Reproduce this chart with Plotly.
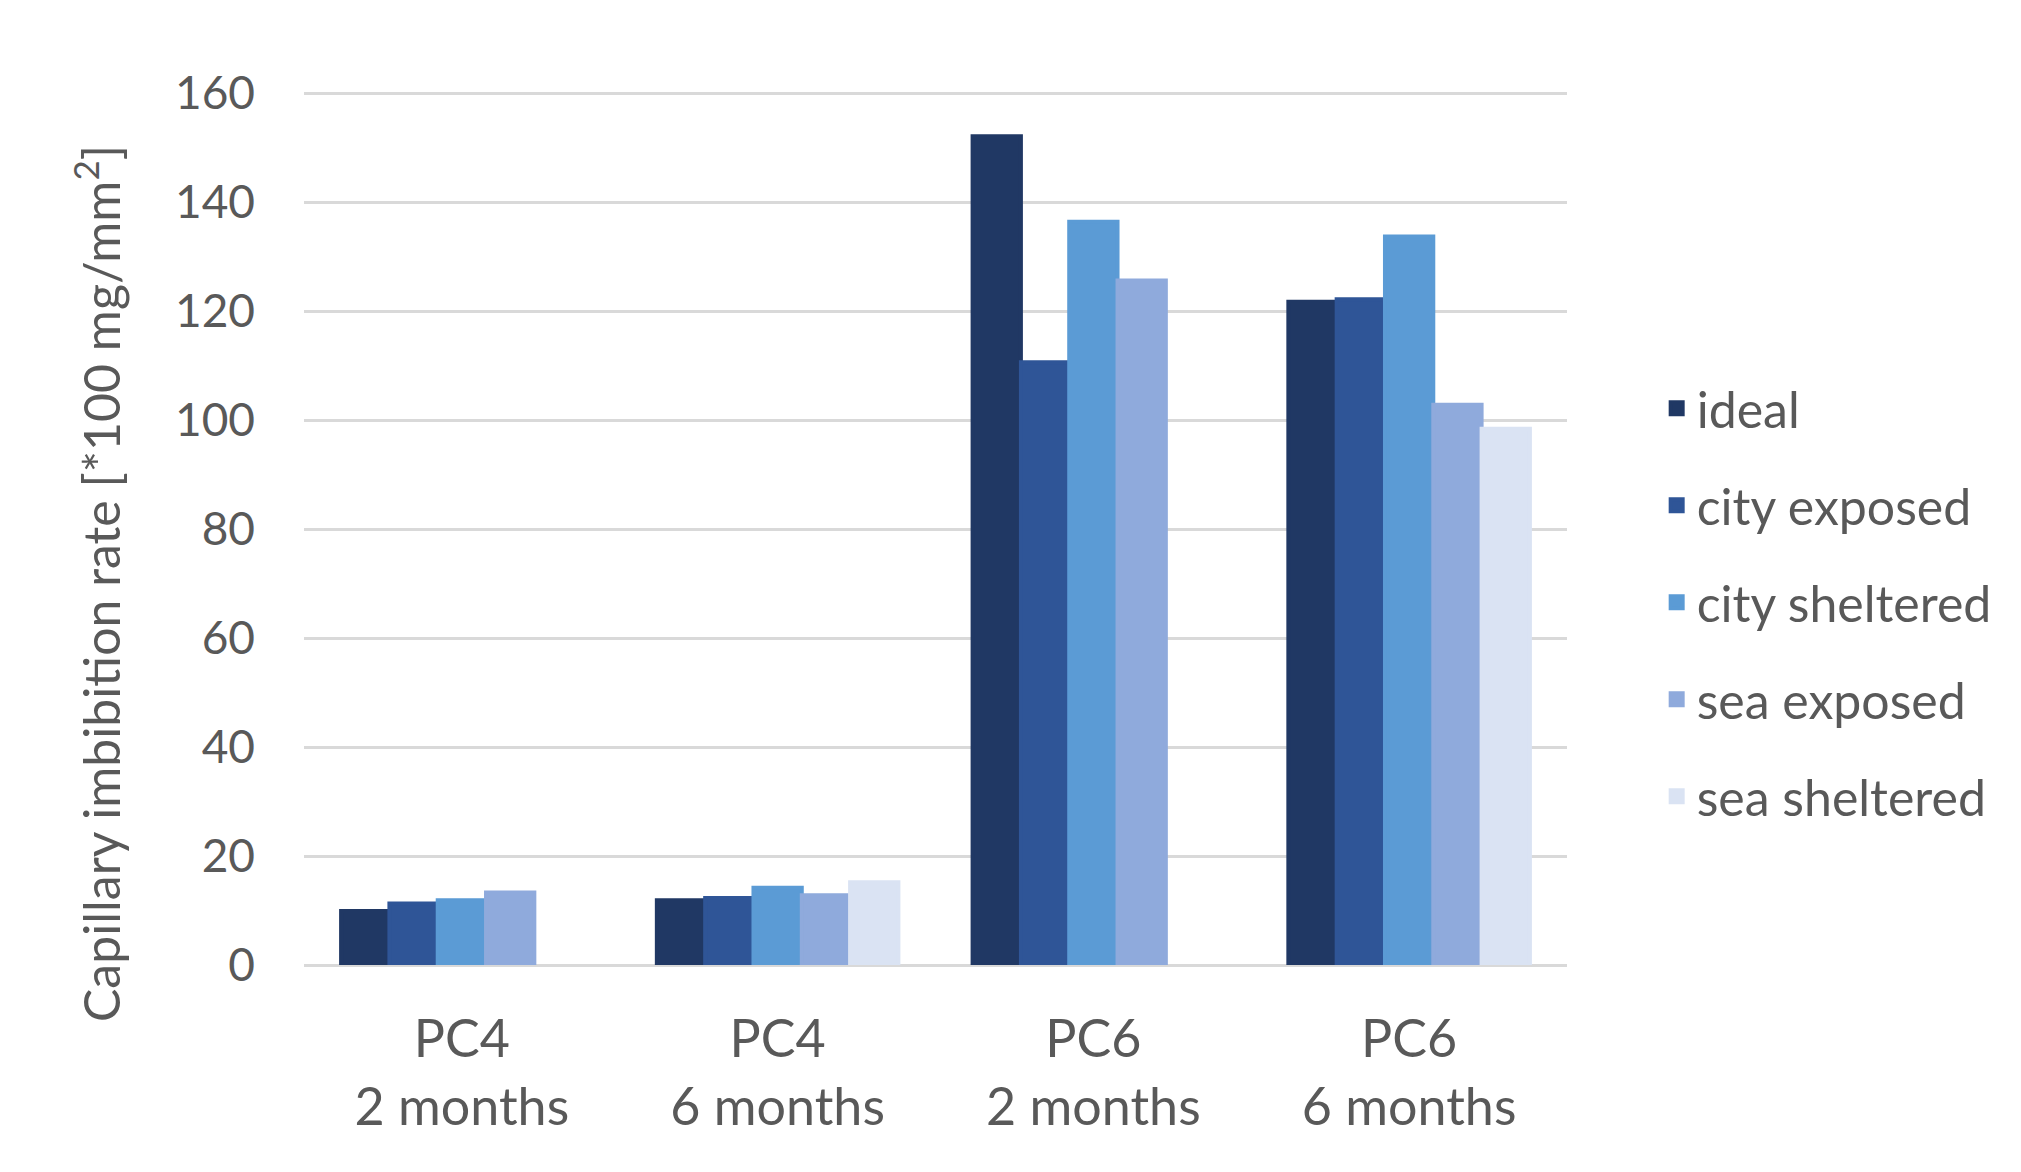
import plotly.graph_objects as go

categories = ["PC4<br>2 months", "PC4<br>6 months", "PC6<br>2 months", "PC6<br>6 months"]
series_names = ["ideal", "city exposed", "city sheltered", "sea exposed", "sea sheltered"]
ideal = [9.9, 11.9, 152.1, 121.7]
city_exposed = [11.3, 12.3, 110.6, 122.2]
city_sheltered = [11.9, 14.2, 136.4, 133.7]
sea_exposed = [13.3, 12.8, 125.6, 102.8]
sea_sheltered = [None, 15.2, None, 98.4]
y_ticks = [0, 20, 40, 60, 80, 100, 120, 140, 160]
y_title = "Capillary imbibition rate [*100 mg/mm<sup>2</sup>]"

series_values = [ideal, city_exposed, city_sheltered, sea_exposed, sea_sheltered]
colors = ["#203864", "#2F5597", "#5B9BD5", "#8FAADC", "#DAE3F3"]

FONT = "Lato"
TXT = "#595959"

fig = go.Figure()
for i, (name, vals) in enumerate(zip(series_names, series_values)):
    fig.add_trace(go.Bar(
        x=categories, y=vals, name=name,
        marker=dict(color=colors[i], line=dict(width=4, color=colors[i])),
        legendgroup=f"g{i}",
    ))

fig.update_layout(
    width=2021, height=1172,
    paper_bgcolor="white", plot_bgcolor="white",
    barmode="group", bargap=0.235, bargroupgap=0,
    margin=dict(l=296, r=462, t=83, b=215),
    font=dict(family=FONT, color=TXT, size=46),
    showlegend=True,
    legend=dict(
        x=1.071, xanchor="left", y=0.415, yanchor="middle",
        font=dict(family=FONT, size=50, color=TXT),
        tracegroupgap=29, itemwidth=30,
        bgcolor="rgba(0,0,0,0)",
    ),
    xaxis=dict(
        tickfont=dict(family=FONT, size=52, color=TXT),
        showgrid=False, showline=False, ticks="",
        ticklabelstandoff=39,
    ),
    yaxis=dict(
        range=[0, 160.4], tickvals=y_ticks,
        showgrid=True, gridcolor="#D9D9D9", gridwidth=3,
        zeroline=True, zerolinecolor="#D9D9D9", zerolinewidth=3,
        showline=False, ticks="",
        tickfont=dict(family=FONT, size=46, color=TXT),
        ticklabelstandoff=48,
    ),
    annotations=[dict(
        text=y_title, textangle=-90, showarrow=False,
        xref="paper", yref="paper", x=-0.163, y=0.436,
        xanchor="center", yanchor="middle",
        font=dict(family=FONT, size=50, color=TXT),
    )],
)

fig.write_html("out.html")
